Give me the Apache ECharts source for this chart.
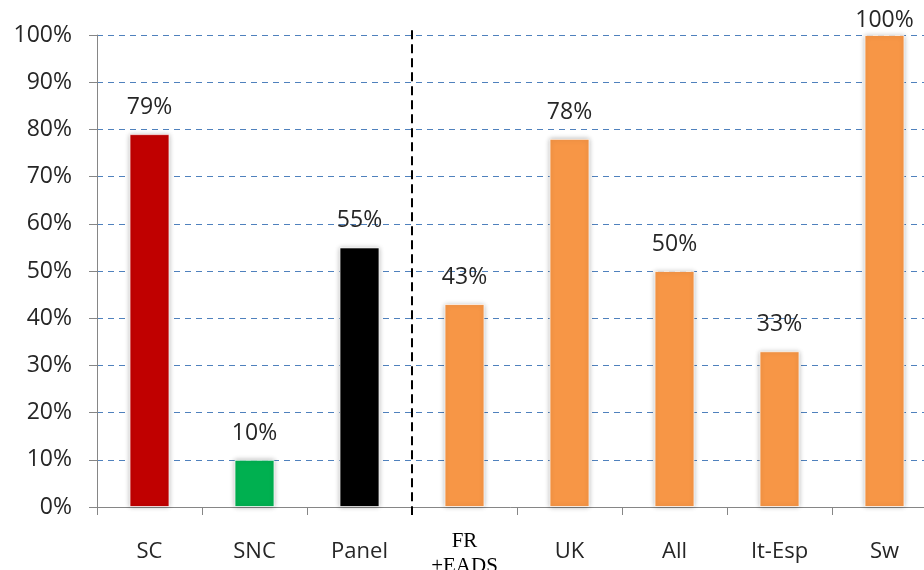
<!DOCTYPE html>
<html>
<head>
<meta charset="utf-8">
<script src="https://cdn.jsdelivr.net/npm/echarts@6/dist/echarts.min.js"></script>
<style>
  html, body { margin: 0; padding: 0; background: #ffffff; }
  #chart { width: 924px; height: 570px; }
</style>
</head>
<body>
<div id="chart"></div>
<script>
// Share of responses per group (percent)
const categories = ['SC', 'SNC', 'Panel', 'FR\n+EADS', 'UK', 'All', 'It-Esp', 'Sw'];
const values = [79, 10, 55, 43, 78, 50, 33, 100];
const barColors = ['#C00000', '#00B050', '#000000', '#F79646', '#F79646', '#F79646', '#F79646', '#F79646'];
const yTicks = [0, 10, 20, 30, 40, 50, 60, 70, 80, 90, 100];
// separator between the first three groups and the country groups
const separatorAt = 3;

const chart = echarts.init(document.getElementById('chart'), null, { renderer: 'canvas' });

const font = '"Open Sans", "Noto Sans", sans-serif';

chart.setOption({
  animation: false,
  backgroundColor: '#ffffff',
  grid: { left: 97, top: 35, width: 840, height: 472, outerBoundsMode: 'none', containLabel: false },
  xAxis: [
    {
      type: 'category',
      data: categories,
      axisLine: { lineStyle: { color: '#868686', width: 1 } },
      axisTick: { show: true, length: 8, interval: 0, lineStyle: { color: '#868686' } },
      axisLabel: {
        interval: 0,
        hideOverlap: false,
        margin: 45,
        verticalAlign: 'middle',
        fontSize: 22,
        color: '#262626',
        fontFamily: font,
        formatter: function (v) {
          return v.indexOf('\n') >= 0 ? '{serif|' + v.replace('\n', '}\n{serif|') + '}' : v;
        },
        rich: {
          serif: { fontFamily: '"Liberation Serif", "DejaVu Serif", serif', fontSize: 21, lineHeight: 25, color: '#000', padding: [3, 0, 0, 0] }
        }
      }
    },
    {
      type: 'value',
      min: 0,
      max: categories.length,
      show: false
    }
  ],
  yAxis: {
    type: 'value',
    min: 0,
    max: 100,
    interval: 10,
    axisLine: { show: true, lineStyle: { color: '#868686', width: 1 } },
    axisTick: { show: true, length: 8, lineStyle: { color: '#868686' } },
    axisLabel: {
      margin: 25,
      fontSize: 23,
      color: '#262626',
      fontFamily: font,
      formatter: function (v) { return yTicks.indexOf(v) >= 0 ? v + '%' : ''; }
    },
    splitLine: { show: true, lineStyle: { color: '#4F81BD', type: [6, 5], width: 1 } }
  },
  series: [
    {
      type: 'bar',
      data: values.map(function (v, i) {
        const item = { value: v, itemStyle: { color: barColors[i] } };
        // the full-height bar keeps its label tucked against the top edge
        if (v >= 100) item.label = { distance: 3 };
        return item;
      }),
      barWidth: 40,
      itemStyle: {
        borderColor: 'rgba(255,255,255,0.7)',
        borderWidth: 1,
        shadowColor: 'rgba(0,0,0,0.28)',
        shadowBlur: 5
      },
      label: {
        show: true,
        position: 'top',
        distance: 15,
        fontSize: 23,
        color: '#262626',
        fontFamily: font,
        formatter: '{c}%'
      }
    },
    {
      // vertical dashed separator, slightly overshooting the plot area
      type: 'custom',
      xAxisIndex: 1,
      yAxisIndex: 0,
      silent: true,
      clip: false,
      data: [[separatorAt]],
      renderItem: function (params, api) {
        const top = api.coord([api.value(0), 101]);
        const bottom = api.coord([api.value(0), -1.7]);
        return {
          type: 'line',
          shape: { x1: top[0], y1: top[1], x2: bottom[0], y2: bottom[1] },
          style: { stroke: '#000000', lineWidth: 2, lineDash: [9, 5] }
        };
      }
    }
  ]
});
</script>
</body>
</html>
